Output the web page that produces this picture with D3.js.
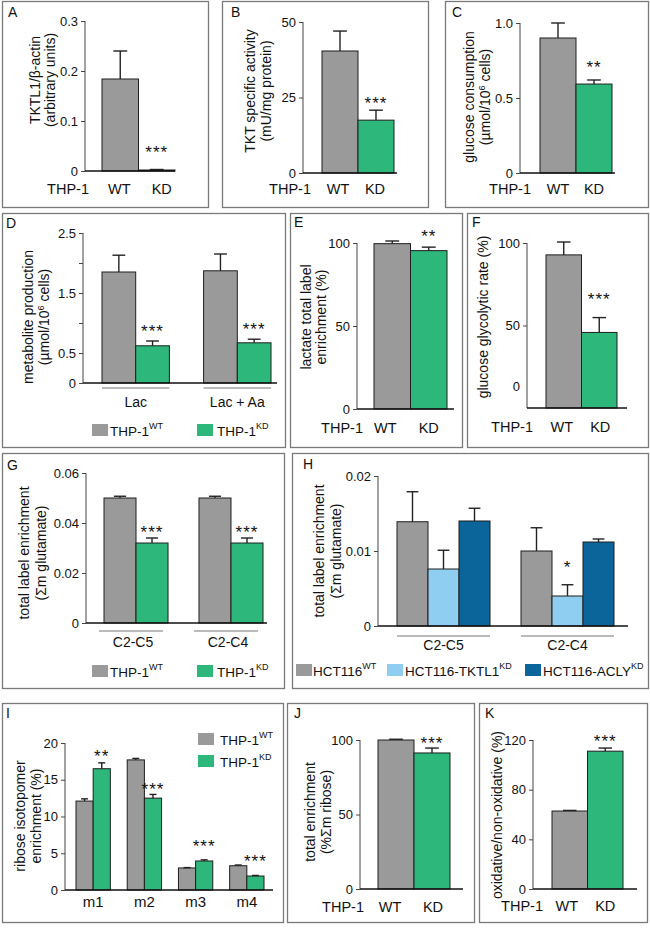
<!DOCTYPE html>
<html><head><meta charset="utf-8">
<script src="https://cdn.jsdelivr.net/npm/d3@7"></script>
<style>body{margin:0;background:#fff} svg text{font-family:"Liberation Sans",Arial,sans-serif;fill:#111}</style>
</head><body><script>
// ---------------- DATA ----------------
const thpCats = ["WT", "KD"];
const aVals = [0.184, 0.002], aErr = [0.056, 0.001], aStars = ["", "***"];
const bVals = [40.4, 17.5], bErr = [6.6, 3.3], bStars = ["", "***"];
const cVals = [0.90, 0.593], cErr = [0.10, 0.027], cStars = ["", "**"];
const eVals = [99.6, 95.4], eErr = [1.6, 2.1], eStars = ["", "**"];
const fVals = [92.8, 45.8], fErr = [7.8, 9.0], fStars = ["", "***"];
const jVals = [100, 91.3], jErr = [0.5, 3.3], jStars = ["", "***"];
const kVals = [62.8, 111], kErr = [0.5, 2.5], kStars = ["", "***"];

const dGroups = ["Lac", "Lac + Aa"];
const dWT = [1.85, 1.87], dWTerr = [0.28, 0.28];
const dKD = [0.62, 0.67], dKDerr = [0.08, 0.06];
const dStars = ["***", "***"];

const gGroups = ["C2-C5", "C2-C4"];
const gWT = [0.050, 0.050], gWTerr = [0.0007, 0.0007];
const gKD = [0.032, 0.032], gKDerr = [0.002, 0.002];
const gStars = ["***", "***"];

const hGroups = ["C2-C5", "C2-C4"];
const hWT = [0.0139, 0.0100], hWTerr = [0.0040, 0.0031];
const hTK = [0.0076, 0.0040], hTKerr = [0.0025, 0.0015];
const hAC = [0.0140, 0.0112], hACerr = [0.0017, 0.0004];
const hStars = ["", "*"];

const iGroups = ["m1", "m2", "m3", "m4"];
const iWT = [12.1, 17.7, 3.0, 3.3], iWTerr = [0.3, 0.2, 0.05, 0.1];
const iKD = [16.5, 12.5, 3.95, 1.9], iKDerr = [0.8, 0.5, 0.15, 0.08];
const iStars = ["**", "***", "***", "***"];

// ---------------- STYLE ----------------
const FONT = '"Liberation Sans", Arial, sans-serif';
const GRAY = "#9a9a9a", GREEN = "#2db77b", LBLUE = "#8fcdf1", DBLUE = "#0b659b";

const svg = d3.select("body").append("svg").attr("width", 650).attr("height", 929);

function rich(sel, str, supSize, shift) {
  const parts = str.split(/\^\{([^}]*)\}/);
  let raised = false;
  parts.forEach((p, i) => {
    if (i % 2 === 0) {
      if (!p) return;
      const t = sel.append("tspan").text(p);
      if (raised) { t.attr("dy", shift); raised = false; }
    } else {
      sel.append("tspan").text(p).attr("font-size", supSize).attr("dy", -shift);
      raised = true;
    }
  });
}

function frame(L) {
  const g = svg.append("g");
  g.append("rect").attr("x", L.box[0] + 0.5).attr("y", L.box[1] + 0.5)
    .attr("width", L.box[2] - L.box[0]).attr("height", L.box[3] - L.box[1])
    .attr("fill", "none").attr("stroke", "#7a7a7a").attr("stroke-width", 1.3);
  g.append("text").attr("x", L.lp[0]).attr("y", L.lp[1]).attr("font-size", 14).text(L.letter);
  const y = d3.scaleLinear().domain([0, L.max]).range([L.bot, L.top]);
  const ax = g.append("g").attr("transform", `translate(${L.ax},0)`)
    .call(d3.axisLeft(y).tickValues(L.ticks).tickFormat(L.fmt || (d => d)).tickSize(4).tickPadding(3));
  ax.select(".domain").remove();
  ax.attr("font-family", FONT).attr("font-size", 13);
  ax.selectAll(".tick line").attr("stroke", "#444");
  ax.selectAll(".tick text").attr("fill", "#111");
  g.append("line").attr("x1", L.ax).attr("x2", L.ax).attr("y1", y(L.max)).attr("y2", y(0))
    .attr("stroke", "#444").attr("stroke-width", 1);
  L.yl.forEach((s, i) => {
    const t = g.append("text").attr("transform", `translate(${L.ylx[i]},${L.yly}) rotate(-90)`)
      .attr("text-anchor", "middle").attr("dy", "0.35em").attr("font-size", 14);
    rich(t, s, 9, 5);
  });
  return { g, y };
}

function bar(g, y, x, w, v, e, color) {
  g.append("rect").attr("x", x).attr("y", y(v)).attr("width", w).attr("height", y(0) - y(v))
    .attr("fill", color).attr("stroke", "#1e1e1e").attr("stroke-width", 1);
  const cx = x + w / 2, cap = Math.max(7, Math.min(14, w * 0.38));
  g.append("line").attr("x1", cx).attr("x2", cx).attr("y1", y(v)).attr("y2", y(v + e))
    .attr("stroke", "#222").attr("stroke-width", 1.4);
  g.append("line").attr("x1", cx - cap / 2).attr("x2", cx + cap / 2).attr("y1", y(v + e)).attr("y2", y(v + e))
    .attr("stroke", "#222").attr("stroke-width", 1.4);
}

function stars(g, cx, yTop, gap, s) {
  if (!s) return;
  g.append("text").attr("x", cx).attr("y", yTop - gap + 10).attr("text-anchor", "middle")
    .attr("font-size", 17).attr("letter-spacing", 1).text(s);
}

function baseline(g, y, L) {
  g.append("line").attr("x1", L.ax).attr("x2", L.baseEnd).attr("y1", y(0)).attr("y2", y(0))
    .attr("stroke", "#111").attr("stroke-width", 1.5);
}

function simplePanel(L, vals, errs, st) {
  const { g, y } = frame(L);
  const x = d3.scaleBand().domain(thpCats).range(L.bars).padding(0);
  const colors = [GRAY, GREEN];
  thpCats.forEach((c, i) => {
    bar(g, y, x(c), x.bandwidth(), vals[i], errs[i], colors[i]);
    stars(g, x(c) + x.bandwidth() / 2, y(vals[i] + errs[i]), L.starGap, st[i]);
  });
  baseline(g, y, L);
  g.append("text").attr("x", L.thpX).attr("y", L.labY).attr("text-anchor", "middle").attr("font-size", 14.5).text("THP-1");
  thpCats.forEach((c, i) => {
    g.append("text").attr("x", x(c) + x.bandwidth() / 2 + L.labShift[i]).attr("y", L.labY)
      .attr("text-anchor", "middle").attr("font-size", 14.5).text(c);
  });
  if (L.zeroLabel) {
    g.append("text").attr("x", L.ax - 7).attr("y", y(0) - L.zeroLabel).attr("dy", "0.32em")
      .attr("text-anchor", "end").attr("font-size", 13).text("0");
  }
}

function groupPanel(L, groups, series, errs, colors, st, legend) {
  const { g, y } = frame(L);
  const x0 = d3.scaleBand().domain(groups).range(L.bars).paddingInner(L.pad).paddingOuter(0);
  const x1 = d3.scaleBand().domain(d3.range(series.length)).range([0, x0.bandwidth()]).padding(0);
  const starSeries = L.starSeries;
  groups.forEach((gr, gi) => {
    series.forEach((s, si) => {
      bar(g, y, x0(gr) + x1(si), x1.bandwidth(), s[gi], errs[si][gi], colors[si]);
    });
    const ss = starSeries;
    const gap = Array.isArray(L.starGap) ? L.starGap[gi] : L.starGap;
    stars(g, x0(gr) + x1(ss) + x1.bandwidth() / 2, y(series[ss][gi] + errs[ss][gi]), gap, st[gi]);
    if (L.underY) {
      g.append("line").attr("x1", x0(gr) + (L.underDx || 0)).attr("x2", x0(gr) + x0.bandwidth() + (L.underDx || 0))
        .attr("y1", L.underY).attr("y2", L.underY).attr("stroke", "#777").attr("stroke-width", 1);
    }
    g.append("text").attr("x", x0(gr) + x0.bandwidth() / 2 + (L.labDx || 0)).attr("y", L.groupLabY)
      .attr("text-anchor", "middle").attr("font-size", L.labSize || 14).text(gr);
  });
  baseline(g, y, L);
  legend.forEach(it => {
    g.append("rect").attr("x", it.x).attr("y", it.y).attr("width", 16).attr("height", 12).attr("fill", it.color);
    const t = g.append("text").attr("x", it.x + (it.tdx || 18)).attr("y", it.y + 12).attr("font-size", 13.5);
    rich(t, it.text, 9, 7);
  });
}

// ---------------- LAYOUT ----------------
const f1 = d => d === 0 ? "0" : d.toFixed(1);
const f2 = d => d === 0 ? "0" : d.toFixed(2);

simplePanel({ box: [2, 1, 208, 207], letter: "A", lp: [8, 17], ax: 85, top: 21, bot: 171, max: 0.3,
  ticks: [0, 0.1, 0.2, 0.3], fmt: f1, bars: [102, 175], baseEnd: 175,
  yl: ["TKTL1/β-actin", "(arbitrary units)"], ylx: [35, 50], yly: 80,
  labY: 194, thpX: 68, labShift: [-1, 5], starGap: 22 }, aVals, aErr, aStars);

simplePanel({ box: [222, 1, 428, 207], letter: "B", lp: [231, 17], ax: 303, top: 22, bot: 173, max: 50,
  ticks: [0, 25, 50], bars: [322, 394], baseEnd: 397,
  yl: ["TKT specific activity", "(mU/mg protein)"], ylx: [250, 266], yly: 91,
  labY: 194, thpX: 290, labShift: [-2, -1], starGap: 11 }, bVals, bErr, bStars);

simplePanel({ box: [445, 1, 648, 207], letter: "C", lp: [452, 17], ax: 520, top: 23, bot: 173, max: 1.0,
  ticks: [0, 0.5, 1.0], fmt: f1, bars: [540, 612], baseEnd: 615,
  yl: ["glucose consumption", "(µmol/10^{6} cells)"], ylx: [469, 485], yly: 97,
  labY: 194, thpX: 510, labShift: [0, 0], starGap: 17 }, cVals, cErr, cStars);

groupPanel({ box: [2, 213, 285, 447], letter: "D", lp: [6, 228], ax: 83, top: 233, bot: 383, max: 2.5,
  ticks: [0, 0.5, 1, 1.5, 2, 2.5], fmt: d => [0, 0.5, 1.5, 2.5].includes(d) ? String(d) : "",
  bars: [102, 271], pad: 0.3366, baseEnd: 277, underY: 388, groupLabY: 407, starSeries: 1,
  yl: ["metabolite production", "(µmol/10^{6} cells)"], ylx: [28, 44], yly: 317, starGap: 14 },
  dGroups, [dWT, dKD], [dWTerr, dKDerr], [GRAY, GREEN], dStars,
  [{ x: 92, y: 424, color: GRAY, text: "THP-1^{WT}" }, { x: 197, y: 424, color: GREEN, text: "THP-1^{KD}", tdx: 20 }]);

simplePanel({ box: [290, 213, 462, 447], letter: "E", lp: [294, 227], ax: 357, top: 243, bot: 409, max: 100,
  ticks: [0, 50, 100], bars: [374, 447], baseEnd: 454,
  yl: ["lactate total label", "enrichment (%)"], ylx: [306, 321], yly: 317,
  labY: 433, thpX: 342, labShift: [-7, 0], starGap: 15 }, eVals, eErr, eStars);

simplePanel({ box: [467, 213, 648, 447], letter: "F", lp: [472, 227], ax: 527, top: 243, bot: 408, max: 100,
  ticks: [50, 100], bars: [546, 617], baseEnd: 627, zeroLabel: 21,
  yl: ["glucose glycolytic rate (%)"], ylx: [483], yly: 317,
  labY: 432, thpX: 512, labShift: [-2, 1], starGap: 23 }, fVals, fErr, fStars);

groupPanel({ box: [2, 453, 284, 688], letter: "G", lp: [7, 470], ax: 86, top: 473, bot: 623, max: 0.06,
  ticks: [0, 0.02, 0.04, 0.06], fmt: f2, bars: [104, 263], pad: 0.326, baseEnd: 267,
  underY: 631, underDx: -5, groupLabY: 647, labDx: -3, starSeries: 1,
  yl: ["total label enrichment", "(Σm glutamate)"], ylx: [24, 41], yly: 553, starGap: 10 },
  gGroups, [gWT, gKD], [gWTerr, gKDerr], [GRAY, GREEN], gStars,
  [{ x: 92, y: 665, color: GRAY, text: "THP-1^{WT}" }, { x: 197, y: 665, color: GREEN, text: "THP-1^{KD}", tdx: 20 }]);

groupPanel({ box: [292, 453, 648, 688], letter: "H", lp: [303, 469], ax: 378, top: 476, bot: 626, max: 0.02,
  ticks: [0, 0.01, 0.02], fmt: f2, bars: [397, 614], pad: 0.25, baseEnd: 628,
  underY: 636, groupLabY: 650, starSeries: 1,
  yl: ["total label enrichment", "(Σm glutamate)"], ylx: [319, 336], yly: 551, starGap: 22 },
  hGroups, [hWT, hTK, hAC], [hWTerr, hTKerr, hACerr], [GRAY, LBLUE, DBLUE], hStars,
  [{ x: 296, y: 664, color: GRAY, text: "HCT116^{WT}", tdx: 17 },
   { x: 387, y: 664, color: LBLUE, text: "HCT116-TKTL1^{KD}" },
   { x: 525, y: 664, color: DBLUE, text: "HCT116-ACLY^{KD}" }]);

groupPanel({ box: [2, 703, 283, 922], letter: "I", lp: [6, 718], ax: 65, top: 743, bot: 890, max: 20,
  ticks: [0, 5, 10, 15, 20], bars: [76, 264], pad: 0.33, baseEnd: 273,
  groupLabY: 907, labSize: 15, starSeries: 1,
  yl: ["ribose isotopomer", "enrichment (%)"], ylx: [20, 36], yly: 816, starGap: [11, 9, 18, 18] },
  iGroups, [iWT, iKD], [iWTerr, iKDerr], [GRAY, GREEN], iStars,
  [{ x: 198, y: 733, color: GRAY, text: "THP-1^{WT}", tdx: 22 }, { x: 198, y: 755, color: GREEN, text: "THP-1^{KD}", tdx: 22 }]);

simplePanel({ box: [287, 703, 474, 922], letter: "J", lp: [294, 718], ax: 360, top: 740, bot: 889, max: 100,
  ticks: [0, 50, 100], bars: [378, 450], baseEnd: 463,
  yl: ["total enrichment", "(%Σm ribose)"], ylx: [310, 326], yly: 812,
  labY: 912, thpX: 343, labShift: [-6, 1], starGap: 9 }, jVals, jErr, jStars);

simplePanel({ box: [479, 703, 647, 922], letter: "K", lp: [485, 718], ax: 533, top: 740, bot: 889, max: 120,
  ticks: [0, 40, 80, 120], bars: [552, 623], baseEnd: 637,
  yl: ["oxidative/non-oxidative (%)"], ylx: [497], yly: 815,
  labY: 911, thpX: 522, labShift: [-3, 0], starGap: 11 }, kVals, kErr, kStars);
</script></body></html>
